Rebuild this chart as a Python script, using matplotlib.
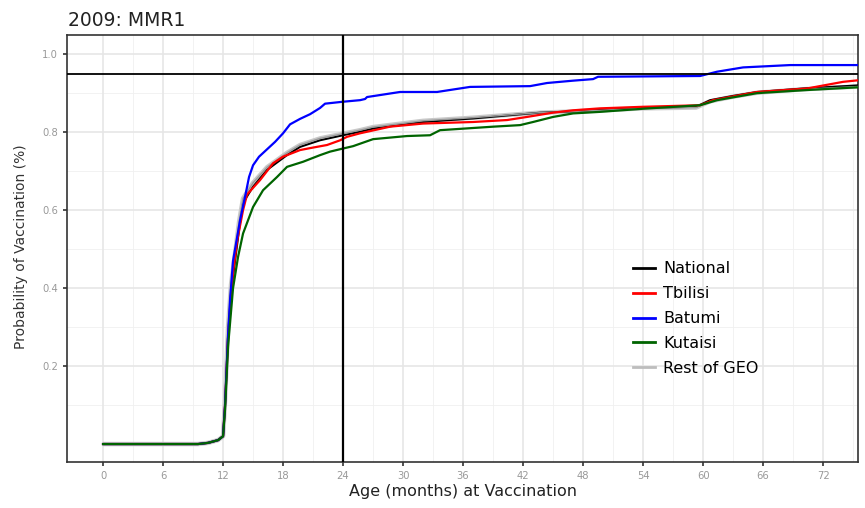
import numpy as np
import matplotlib
matplotlib.use("Agg")
import matplotlib.pyplot as plt

# -------------------------
# Data
# -------------------------
national_m = [0, 9.5, 10.5, 11.5, 12.0, 12.2, 12.5, 12.8, 13.2, 13.6, 14.0, 15.0, 16.4, 18.4,
              19.7, 21.7, 24.0, 25.7, 27.0, 32.0, 37.0, 41.0, 43.7, 47.0, 49.7, 54.0, 59.3,
              60.7, 63.0, 65.4, 70.0, 75.5]
national_p = [0, 0, 0.003, 0.01, 0.02, 0.10, 0.28, 0.39, 0.47, 0.55, 0.618, 0.66, 0.703, 0.741,
              0.762, 0.779, 0.792, 0.801, 0.809, 0.826, 0.835, 0.844, 0.85, 0.853, 0.857, 0.862,
              0.865, 0.882, 0.893, 0.903, 0.912, 0.92]

tbilisi_m = [0, 9.5, 10.5, 11.5, 12.0, 12.2, 12.5, 12.8, 13.0, 13.4, 14.0, 14.4, 15.7, 17.0,
             18.0, 19.7, 20.7, 22.4, 23.7, 24.4, 25.7, 28.7, 32.0, 37.0, 40.4, 42.4, 45.0, 47.0,
             49.7, 54.0, 59.7, 61.0, 65.4, 70.4, 74.0, 75.5]
tbilisi_p = [0, 0, 0.003, 0.01, 0.02, 0.10, 0.27, 0.38, 0.44, 0.52, 0.60, 0.64, 0.677, 0.72,
             0.737, 0.754, 0.759, 0.767, 0.779, 0.788, 0.797, 0.814, 0.822, 0.826, 0.831, 0.839,
             0.85, 0.856, 0.861, 0.865, 0.869, 0.882, 0.903, 0.912, 0.929, 0.933]

batumi_m = [0, 9.5, 10.5, 11.5, 12.0, 12.2, 12.5, 12.7, 13.0, 13.7, 14.2, 14.6, 15.0, 15.6,
            16.4, 17.2, 18.0, 18.7, 19.7, 20.7, 21.7, 22.2, 24.0, 25.7, 26.2, 26.4, 29.7, 33.4,
            36.7, 42.7, 44.4, 47.0, 49.0, 49.5, 59.7, 61.4, 64.0, 68.7, 75.5]
batumi_p = [0, 0, 0.003, 0.01, 0.02, 0.10, 0.28, 0.37, 0.47, 0.574, 0.634, 0.685, 0.715, 0.737,
            0.756, 0.775, 0.797, 0.82, 0.834, 0.846, 0.862, 0.873, 0.878, 0.882, 0.885, 0.89,
            0.903, 0.903, 0.916, 0.918, 0.926, 0.932, 0.936, 0.942, 0.944, 0.955, 0.966, 0.972,
            0.972]

kutaisi_m = [0, 9.5, 10.5, 11.5, 12.0, 12.2, 12.5, 13.0, 13.5, 14.0, 15.0, 16.0, 17.4, 18.4,
             20.0, 21.7, 22.7, 24.0, 25.0, 27.0, 30.4, 32.7, 33.7, 39.0, 41.7, 43.0, 45.0, 47.0,
             49.7, 54.0, 59.7, 61.4, 65.4, 70.4, 75.5]
kutaisi_p = [0, 0, 0.003, 0.01, 0.02, 0.09, 0.25, 0.40, 0.48, 0.54, 0.608, 0.651, 0.685, 0.711,
             0.724, 0.741, 0.75, 0.758, 0.764, 0.782, 0.79, 0.792, 0.805, 0.814, 0.818, 0.826,
             0.839, 0.848, 0.852, 0.86, 0.869, 0.882, 0.9, 0.908, 0.915]

rest_m = national_m
rest_p = [0, 0, 0.003, 0.01, 0.02, 0.11, 0.30, 0.41, 0.49, 0.57, 0.63, 0.67, 0.71, 0.747,
          0.767, 0.784, 0.796, 0.805, 0.813, 0.829, 0.837, 0.845, 0.85, 0.853, 0.856, 0.861,
          0.863, 0.879, 0.891, 0.901, 0.91, 0.917]

x_ticks = list(range(0, 73, 6))
y_ticks = [0.2, 0.4, 0.6, 0.8, 1.0]
target_cov = 0.95
target_age = 24

plt.rcParams['font.family'] = ['DejaVu Sans']

fig = plt.figure(figsize=(8.65, 5.08), dpi=100)
ax = fig.add_axes([0.0775, 0.0906, 0.9145, 0.8404])

# grid (ggplot theme_bw style)
for v in np.arange(3, 76, 6):
    ax.axvline(v, color='#f0f0f0', lw=0.6, zorder=0)
for v in [0.1, 0.3, 0.5, 0.7, 0.9]:
    ax.axhline(v, color='#f0f0f0', lw=0.6, zorder=0)
for v in x_ticks:
    ax.axvline(v, color='#e6e6e6', lw=1.2, zorder=0)
for v in y_ticks:
    ax.axhline(v, color='#e6e6e6', lw=1.2, zorder=0)

# curves
ax.plot(rest_m, rest_p, color='#c9c9c9', lw=3.2, zorder=2, solid_capstyle='butt')
h_nat, = ax.plot(national_m, national_p, color='black', lw=1.4, zorder=3, label='National')
h_tbi, = ax.plot(tbilisi_m, tbilisi_p, color='#ff0000', lw=1.6, zorder=4, label='Tbilisi')
h_bat, = ax.plot(batumi_m, batumi_p, color='#0000ff', lw=1.6, zorder=4, label='Batumi')
h_kut, = ax.plot(kutaisi_m, kutaisi_p, color='#006400', lw=1.6, zorder=4, label='Kutaisi')
h_rest, = ax.plot(rest_m, rest_p, color='#9a9a9a', lw=1.0, zorder=3, label='Rest of GEO')

# reference lines
ax.axhline(target_cov, color='black', lw=1.3, zorder=5)
ax.axvline(target_age, color='black', lw=1.6, zorder=5)

ax.set_xlim(-3.6, 75.5)
ax.set_ylim(-0.046, 1.049)
ax.set_xticks(x_ticks)
ax.set_yticks(y_ticks)
ax.set_xticklabels([str(t) for t in x_ticks])
ax.set_yticklabels(['%.1f' % t for t in y_ticks])
ax.tick_params(axis='both', labelsize=7.2, colors='#333333', labelcolor='#999999',
               length=3, width=1.2, direction='out')
for s in ax.spines.values():
    s.set_color('#333333')
    s.set_linewidth(1.2)

ax.set_xlabel('Age (months) at Vaccination', fontsize=11.5, color='#222222', labelpad=2)
ax.set_ylabel('Probability of Vaccination (%)', fontsize=10, color='#333333')
ax.yaxis.set_label_coords(-0.049, 0.505)
fig.text(0.079, 0.96, '2009: MMR1', fontsize=13.5, color='#222222', va='center', ha='left')

leg = ax.legend(handles=[h_nat, h_tbi, h_bat, h_kut, h_rest], loc='upper left',
                bbox_to_anchor=(0.7075, 0.485), frameon=False, fontsize=11.5,
                handlelength=1.4, handletextpad=0.5, labelspacing=0.62, borderaxespad=0)
for line in leg.get_lines():
    line.set_linewidth(2.0)
leg.get_lines()[4].set_color('#bdbdbd')

fig.savefig('out.png', dpi=100)
